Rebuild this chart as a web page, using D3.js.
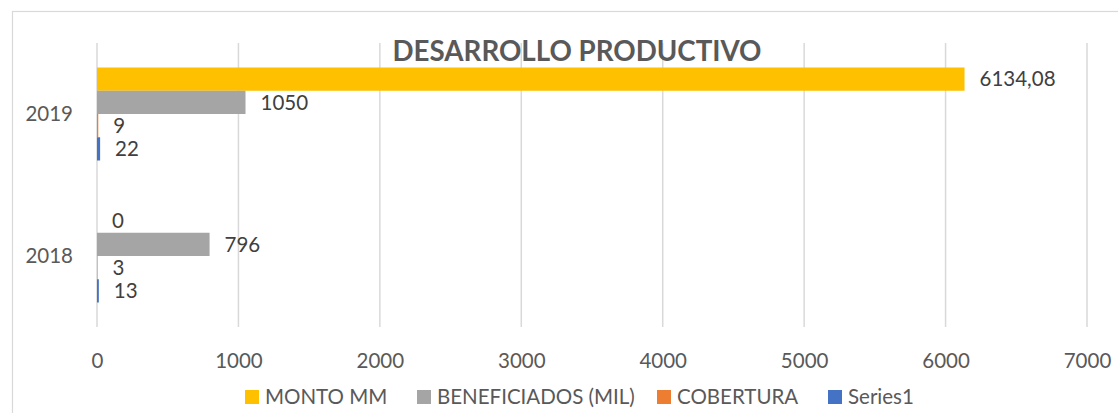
<!DOCTYPE html>
<html>
<head>
<meta charset="utf-8">
<script src="https://cdn.jsdelivr.net/npm/d3@7"></script>
<style>
  html, body { margin: 0; padding: 0; background: #fff; }
  svg { display: block; font-family: Lato, "Open Sans", sans-serif; }
</style>
</head>
<body>
<svg id="chart" width="1118" height="413"></svg>
<script>
// Chart data
const years = ["2019", "2018"];
const seriesNames = ["MONTO MM", "BENEFICIADOS (MIL)", "COBERTURA", "Series1"];
const montoMM = [6134.08, 0];
const beneficiados = [1050, 796];
const cobertura = [9, 3];
const series1 = [22, 13];
const xTicks = [0, 1000, 2000, 3000, 4000, 5000, 6000, 7000];
const colors = ["#FFC000", "#A5A5A5", "#ED7D31", "#4472C4"];
const title = "DESARROLLO PRODUCTIVO";

const seriesValues = [montoMM, beneficiados, cobertura, series1];

const svg = d3.select("#chart");
const W = 1118, H = 413;
const plot = { left: 97, right: 1087, top: 43, bottom: 327 };
const fs = 20.5;

// Chart frame
svg.append("rect")
  .attr("x", 12.5).attr("y", 11.5)
  .attr("width", W + 20).attr("height", H + 20)
  .attr("fill", "#fff").attr("stroke", "#d9d9d9").attr("stroke-width", 1.2);

const x = d3.scaleLinear().domain([0, 7000]).range([plot.left, plot.right]);
const y0 = d3.scaleBand().domain(years).range([plot.top, plot.bottom]);
const groupH = 93;
const y1 = d3.scaleBand().domain(seriesNames)
  .range([(y0.bandwidth() - groupH) / 2, (y0.bandwidth() + groupH) / 2]);

// Vertical gridlines
svg.append("g").selectAll("line").data(xTicks).join("line")
  .attr("x1", d => x(d)).attr("x2", d => x(d))
  .attr("y1", plot.top).attr("y2", plot.bottom)
  .attr("stroke", "#d9d9d9").attr("stroke-width", 1.5);

// Title
svg.append("text")
  .attr("x", 577).attr("y", 61)
  .attr("text-anchor", "middle")
  .attr("font-size", 28).attr("font-weight", "bold")
  .attr("fill", "#595959")
  .attr("textLength", 369).attr("lengthAdjust", "spacingAndGlyphs")
  .text(title);

// Bars
const fmt = d3.formatLocale({ decimal: ",", thousands: "", grouping: [3], currency: ["", ""] }).format("~f");

const rows = [];
years.forEach((yr, i) => {
  seriesNames.forEach((s, j) => {
    rows.push({ year: yr, series: s, value: seriesValues[j][i], color: colors[j] });
  });
});

const bars = svg.append("g");
bars.selectAll("rect").data(rows).join("rect")
  .attr("x", x(0))
  .attr("y", d => y0(d.year) + y1(d.series))
  .attr("width", d => x(d.value) - x(0))
  .attr("height", y1.bandwidth())
  .attr("fill", d => d.color);

// Value labels
bars.selectAll("text").data(rows).join("text")
  .attr("x", d => x(d.value) + 15)
  .attr("y", d => y0(d.year) + y1(d.series) + y1.bandwidth() / 2)
  .attr("dy", "0.35em")
  .attr("font-size", fs)
  .attr("fill", "#404040")
  .text(d => fmt(d.value));

// Category labels
svg.append("g").selectAll("text").data(years).join("text")
  .attr("x", 73)
  .attr("y", d => y0(d) + y0.bandwidth() / 2)
  .attr("dy", "0.35em")
  .attr("text-anchor", "end")
  .attr("font-size", fs)
  .attr("fill", "#595959")
  .text(d => d);

// X axis tick labels
const xAxis = d3.axisBottom(x).tickValues(xTicks).tickFormat(d3.format("d")).tickSize(0).tickPadding(0);
const gx = svg.append("g").attr("transform", `translate(0, 353)`).call(xAxis);
gx.select(".domain").remove();
gx.selectAll("text")
  .attr("font-family", "Lato, 'Open Sans', sans-serif")
  .attr("font-size", fs)
  .attr("fill", "#595959")
  .attr("dy", "0.71em")
  .attr("y", 0);

// Legend
const legendX = [245, 417, 657, 828];
const legend = svg.append("g");
seriesNames.forEach((s, i) => {
  const g = legend.append("g").attr("transform", `translate(${legendX[i]}, 397)`);
  g.append("rect").attr("x", 0).attr("y", -7).attr("width", 14).attr("height", 14).attr("fill", colors[i]);
  g.append("text").attr("x", 20).attr("y", 0).attr("dy", "0.35em")
    .attr("font-size", fs).attr("fill", "#595959").text(s);
});
</script>
</body>
</html>
